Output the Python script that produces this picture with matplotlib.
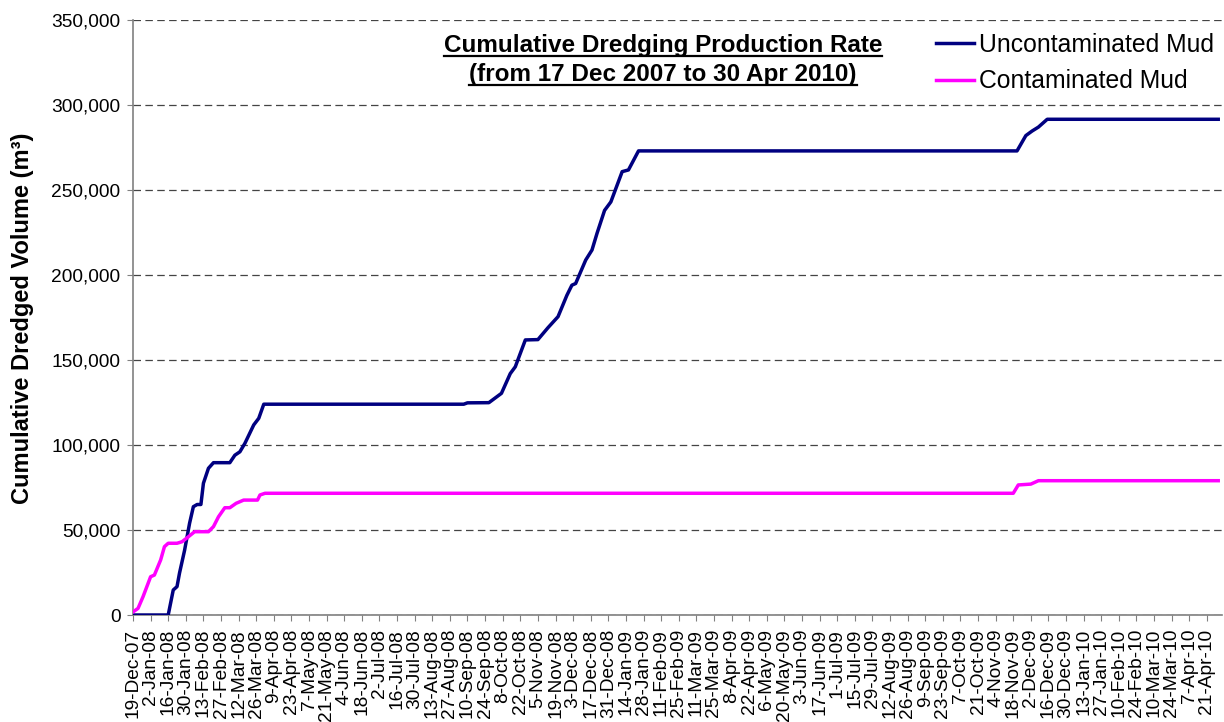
import matplotlib
matplotlib.use('Agg')
import matplotlib.pyplot as plt
import pandas as pd
from matplotlib.ticker import FuncFormatter
from matplotlib.lines import Line2D

plt.rcParams['font.family'] = ['Liberation Sans', 'DejaVu Sans']

# ---- data ----
unc_dates = ['2007-12-19', '2008-01-16', '2008-01-20', '2008-01-23', '2008-01-25',
             '2008-01-29', '2008-02-02', '2008-02-05', '2008-02-08', '2008-02-11',
             '2008-02-13', '2008-02-17', '2008-02-21', '2008-03-05', '2008-03-09',
             '2008-03-13', '2008-03-17', '2008-03-24', '2008-03-28', '2008-04-01',
             '2008-09-07', '2008-09-10', '2008-09-27', '2008-10-07', '2008-10-14',
             '2008-10-18', '2008-10-26', '2008-11-05', '2008-11-13', '2008-11-21',
             '2008-11-28', '2008-12-02', '2008-12-05', '2008-12-13', '2008-12-18',
             '2008-12-22', '2008-12-28', '2009-01-02', '2009-01-11', '2009-01-16',
             '2009-01-24', '2009-11-21', '2009-11-28', '2009-12-03', '2009-12-08',
             '2009-12-15', '2010-04-30']
unc_vol = [0, 0, 14700, 16700, 24700,
           38000, 54000, 63700, 65000, 65000,
           77500, 86300, 89600, 89600, 94000,
           96000, 101000, 111800, 115700, 124000,
           124000, 124800, 124900, 130400, 142000,
           146000, 161800, 162000, 169000, 175500,
           188000, 194000, 195000, 208800, 214700,
           224500, 238000, 243000, 260800, 261800,
           273000, 273000, 282000, 284700, 287000,
           291600, 291600]

con_dates = ['2007-12-19', '2007-12-23', '2007-12-27', '2007-12-31', '2008-01-02',
             '2008-01-05', '2008-01-10', '2008-01-13', '2008-01-16', '2008-01-23',
             '2008-01-27', '2008-02-01', '2008-02-06', '2008-02-17', '2008-02-21',
             '2008-02-25', '2008-03-01', '2008-03-05', '2008-03-10', '2008-03-16',
             '2008-03-27', '2008-03-29', '2008-04-02', '2009-11-18', '2009-11-22',
             '2009-12-02', '2009-12-08', '2010-04-30']
con_vol = [1800, 3900, 10800, 18600, 22500,
           23500, 32400, 40200, 42200, 42200,
           43100, 46000, 49000, 49000, 52000,
           57800, 63100, 63100, 65700, 67600,
           67600, 70600, 71600, 71600, 76500,
           77000, 79000, 79000]

series_names = ['Uncontaminated Mud', 'Contaminated Mud']
tick_first = '2007-12-19'
tick_last = '2010-04-21'
y_ticks = [0, 50000, 100000, 150000, 200000, 250000, 300000, 350000]
title_lines = ['Cumulative Dredging Production Rate', '(from 17 Dec 2007 to 30 Apr 2010)']
y_label = 'Cumulative Dredged Volume (m\u00b3)'

# ---- figure ----
W, H = 1224, 722
fig = plt.figure(figsize=(W / 100, H / 100), dpi=100)
L, R, T, B = 133, 1222, 20, 615
ax = fig.add_axes([L / W, 1 - B / H, (R - L) / W, (B - T) / H])

LW = 2.5
ax.plot(pd.to_datetime(unc_dates), unc_vol, color='#000080', lw=LW,
        solid_joinstyle='round', zorder=3)
ax.plot(pd.to_datetime(con_dates), con_vol, color='#FF00FF', lw=LW,
        solid_joinstyle='round', zorder=3)

ax.set_xlim(pd.Timestamp('2007-12-19'), pd.Timestamp('2010-05-03'))
ax.set_ylim(0, 350000)

ticks = pd.date_range(tick_first, tick_last, freq='14D')
ax.set_xticks(ticks)
ax.set_xticklabels([f"{d.day}-{d.strftime('%b-%y')}" for d in ticks],
                   rotation=90, fontsize=13.8)
ax.set_yticks(y_ticks)
ax.yaxis.set_major_formatter(FuncFormatter(lambda v, p: f"{int(v):,}"))
ax.tick_params(axis='y', labelsize=13.8, length=4, pad=5, color='#808080')
ax.tick_params(axis='x', length=4, pad=6, color='#808080')

for s in ['top', 'right']:
    ax.spines[s].set_visible(False)
for s in ['left', 'bottom']:
    ax.spines[s].set_color('#808080')
    ax.spines[s].set_linewidth(1.2)

ax.yaxis.grid(True, color='#444444', linestyle=(0, (6, 3.5)), linewidth=0.9)
ax.set_axisbelow(True)

fig.text(23 / W, 1 - 318 / H, y_label, rotation=90, fontsize=17, fontweight='bold',
         ha='center', va='center')

# title with underline
fig.canvas.draw()
renderer = fig.canvas.get_renderer()
title_x = 663 / W
baselines = [52, 81]
for line, yb in zip(title_lines, baselines):
    t = fig.text(title_x, 1 - yb / H, line, fontsize=17.5, fontweight='bold',
                 ha='center', va='baseline')
    bb = t.get_window_extent(renderer=renderer)
    yu = (H - yb - 4) / H
    fig.add_artist(Line2D([bb.x0 / W, bb.x1 / W], [yu, yu], color='black', lw=1.6,
                          transform=fig.transFigure))

handles = [Line2D([], [], color='#000080', lw=LW), Line2D([], [], color='#FF00FF', lw=LW)]
fig.legend(handles, series_names, loc='upper right',
           bbox_to_anchor=(1214 / W, 1 - 33 / H), frameon=False, fontsize=17.8,
           handlelength=1.55, handletextpad=0.2, labelspacing=0.5,
           borderpad=0, borderaxespad=0)

fig.savefig('out.png', dpi=100)
